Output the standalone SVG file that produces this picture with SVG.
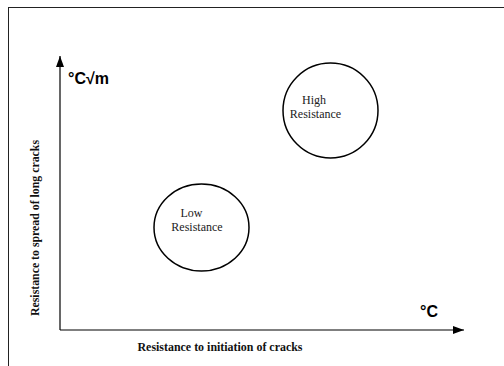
<svg xmlns="http://www.w3.org/2000/svg" width="504" height="366" viewBox="0 0 504 366">
<style>
.frame{fill:none;stroke:#222;stroke-width:1}
.axis{fill:none;stroke:#000;stroke-width:1.2}
.node{fill:#fff;stroke:#000;stroke-width:1.5}
.lbl{font-family:"Liberation Serif","Times New Roman",serif;font-size:12px;fill:#222;text-anchor:middle}
.axlbl{font-family:"Liberation Serif","Times New Roman",serif;font-size:12px;font-weight:bold;fill:#111;text-anchor:middle}
.unit{font-family:"Liberation Sans",Arial,sans-serif;font-size:16px;font-weight:bold;fill:#000}
</style>
<defs>
<marker id="arr" viewBox="0 0 11 8" refX="11" refY="4" markerWidth="11" markerHeight="8" markerUnits="userSpaceOnUse" orient="auto">
<path d="M0,0 L11,4 L0,8 Z" fill="#000"/>
</marker>
</defs>
<rect x="0" y="0" width="504" height="366" fill="#fff"/>
<rect class="frame" x="8.5" y="7.5" width="520" height="380"/>
<g id="connectors">
<path class="axis" d="M60,330 L60,56" marker-end="url(#arr)"/>
<path class="axis" d="M60,330 L464,330" marker-end="url(#arr)"/>
</g>
<g id="high-resistance">
<circle class="node" cx="330.5" cy="110.5" r="47.5"/>
<text class="lbl" x="314" y="104">High</text>
<text class="lbl" x="315.5" y="118">Resistance</text>
</g>
<g id="low-resistance">
<ellipse class="node" cx="201.5" cy="227.5" rx="47.5" ry="43.5"/>
<text class="lbl" x="191.5" y="217">Low</text>
<text class="lbl" x="197" y="231">Resistance</text>
</g>
<g id="labels">
<text class="unit" x="68" y="84">°C√m</text>
<text class="unit" x="420" y="317">°C</text>
<text class="axlbl" x="220" y="351" textLength="165" lengthAdjust="spacingAndGlyphs">Resistance to initiation of cracks</text>
<text class="axlbl" transform="translate(39,228) rotate(-90)" x="0" y="0" textLength="176" lengthAdjust="spacingAndGlyphs">Resistance to spread of long cracks</text>
</g>
</svg>
